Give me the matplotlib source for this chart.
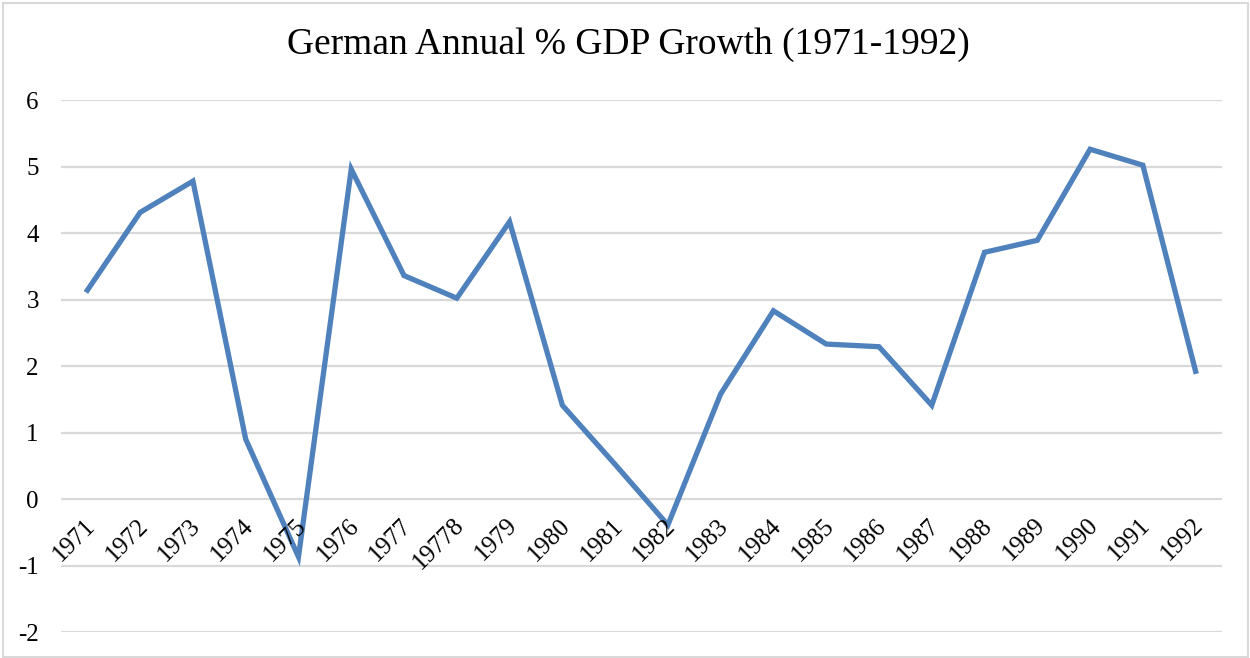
import matplotlib.pyplot as plt
from matplotlib.patches import Rectangle

years = ["1971", "1972", "1973", "1974", "1975", "1976", "1977", "19778",
         "1979", "1980", "1981", "1982", "1983", "1984", "1985", "1986",
         "1987", "1988", "1989", "1990", "1991", "1992"]
growth = [3.14, 4.31, 4.78, 0.90, -0.87, 4.96, 3.36, 3.02,
          4.17, 1.41, 0.52, -0.39, 1.58, 2.83, 2.33, 2.29,
          1.41, 3.71, 3.89, 5.26, 5.02, 1.92]

plt.rcParams['font.family'] = ['Liberation Serif', 'DejaVu Serif']
plt.rcParams['axes.unicode_minus'] = False

fig = plt.figure(figsize=(12.5, 6.58), dpi=100)
fig.patches.append(Rectangle((0.002, 0.002), 0.996, 0.993, transform=fig.transFigure,
                             fill=False, edgecolor='#d9d9d9', linewidth=1.5))
ax = fig.add_axes([0.0488, 0.0395, 0.9288, 0.8085])

x = list(range(len(years)))
ax.plot(x, growth, color='#4f81bd', linewidth=3.8, solid_joinstyle='miter', zorder=3)

ax.set_xlim(-0.5, len(years) - 0.5)
ax.set_ylim(-2, 6)
ax.set_yticks(range(-2, 7))
ax.yaxis.grid(True, color='#d9d9d9', linewidth=1.6)
ax.set_axisbelow(True)
for s in ax.spines.values():
    s.set_visible(False)
ax.tick_params(axis='y', length=0, pad=16, labelsize=18)
ax.set_xticks([])

# category labels sit just under the zero line, rotated like Excel does
for i, lab in enumerate(years):
    ax.annotate(lab, (i, 0), xytext=(-2.5, -11), textcoords='offset points',
                rotation=45, ha='right', va='top', rotation_mode='anchor',
                fontsize=18)

fig.text(0.5024, 0.932, "German Annual % GDP Growth (1971-1992)",
         ha='center', va='center', fontsize=27)

fig.savefig('out.png', dpi=100)
